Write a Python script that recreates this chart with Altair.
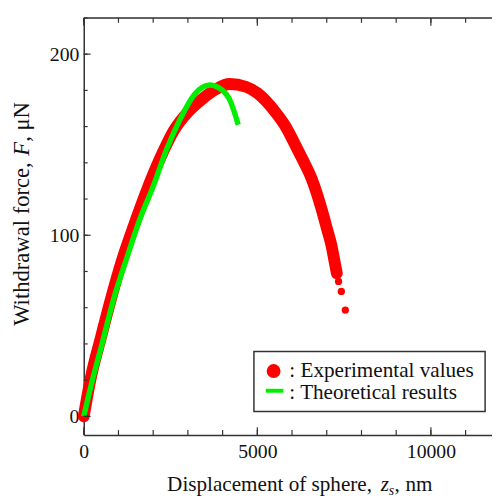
import altair as alt
import pandas as pd

# Experimental values (displacement nm, force uN)
exp_disp = [0, 200, 500, 800, 1100, 1400, 1800, 2200, 2600, 3000, 3400, 3800, 4200,
            4670, 5000, 5520, 5800, 6090, 6300, 6570, 6880, 7000, 7140, 7220, 7290]
exp_force = [0, 21, 44, 66, 86, 103, 124, 142.5, 158, 168, 175, 180.5, 183.5,
             182, 178.5, 168, 160.5, 150, 142, 131, 112.5, 104, 94, 86, 79]
tail_disp = [7340, 7420, 7535]
tail_force = [74.5, 69, 58.7]

# Theoretical results
theo_disp = [0, 250, 500, 850, 1250, 1600, 2000, 2400, 2800, 3200, 3630, 4000, 4200, 4450]
theo_force = [0, 20, 38, 64, 88, 108, 127, 148, 165, 178, 183, 180, 175, 161]

x_labels = [0, 5000, 10000]
y_labels = [0, 100, 200]
x_minor = list(range(0, 12000, 1000))
y_minor = list(range(0, 221, 20))

W, H = 415, 424
FONT = "Liberation Serif"
AX = "#333333"

xs = alt.Scale(domain=[0, 11760], nice=False, zero=False)
ys = alt.Scale(domain=[-10.3, 220], nice=False, zero=False)

exp_df = pd.DataFrame({"d": exp_disp, "f": exp_force})
tail_df = pd.DataFrame({"d": tail_disp, "f": tail_force})
theo_df = pd.DataFrame({"d": theo_disp, "f": theo_force})
one = pd.DataFrame({"k": [0]})

xaxis = alt.Axis(values=x_labels, format="d", ticks=False, grid=False, title=None, domainColor=AX,
                 domainWidth=1.5, labelFont=FONT, labelFontSize=20, labelColor="#111",
                 labelPadding=7, labelFlush=False, labelOverlap=False)
yaxis = alt.Axis(values=y_labels, format="d", ticks=False, grid=False, title=None, domainColor=AX,
                 domainWidth=1.5, labelFont=FONT, labelFontSize=20, labelColor="#111",
                 labelPadding=5, labelOverlap=False)

exp_line = alt.Chart(exp_df).mark_line(
    color="#FF0000", strokeWidth=12, strokeCap="round", strokeJoin="round",
    interpolate="monotone"
).encode(x=alt.X("d:Q", scale=xs, axis=xaxis), y=alt.Y("f:Q", scale=ys, axis=yaxis))

tail_pts = alt.Chart(tail_df).mark_circle(color="#FF0000", size=55, opacity=1).encode(
    x=alt.X("d:Q", scale=xs), y=alt.Y("f:Q", scale=ys))

theo_line = alt.Chart(theo_df).mark_line(
    color="#00EE00", strokeWidth=5.5, interpolate="monotone", strokeCap="butt"
).encode(x=alt.X("d:Q", scale=xs), y=alt.Y("f:Q", scale=ys))

# inward ticks
left_minor = alt.Chart(pd.DataFrame({"v": y_minor})).mark_rule(color=AX, strokeWidth=1.2).encode(
    y=alt.Y("v:Q", scale=ys), x=alt.value(0), x2=alt.value(4))
left_major = alt.Chart(pd.DataFrame({"v": y_labels})).mark_rule(color=AX, strokeWidth=1.2).encode(
    y=alt.Y("v:Q", scale=ys), x=alt.value(0), x2=alt.value(7))
bot_minor = alt.Chart(pd.DataFrame({"v": x_minor})).mark_rule(color=AX, strokeWidth=1.2).encode(
    x=alt.X("v:Q", scale=xs), y=alt.value(H), y2=alt.value(H - 5))
bot_major = alt.Chart(pd.DataFrame({"v": x_labels})).mark_rule(color=AX, strokeWidth=1.2).encode(
    x=alt.X("v:Q", scale=xs), y=alt.value(H), y2=alt.value(H - 8))
top_minor = alt.Chart(pd.DataFrame({"v": x_minor})).mark_rule(color=AX, strokeWidth=1.2).encode(
    x=alt.X("v:Q", scale=xs), y=alt.value(0), y2=alt.value(5))
top_major = alt.Chart(pd.DataFrame({"v": x_labels})).mark_rule(color=AX, strokeWidth=1.2).encode(
    x=alt.X("v:Q", scale=xs), y=alt.value(0), y2=alt.value(8))
top_line = alt.Chart(one).mark_rule(color=AX, strokeWidth=1.5).encode(
    x=alt.value(0), x2=alt.value(W), y=alt.value(0))


def txt(s, x, y, size=21, align="left", italic=False, angle=0, baseline="alphabetic"):
    kw = dict(font=FONT, fontSize=size, align=align, baseline=baseline, color="#111")
    if italic:
        kw["fontStyle"] = "italic"
    if angle:
        kw["angle"] = angle
    return alt.Chart(one).mark_text(**kw).encode(
        x=alt.value(x), y=alt.value(y), text=alt.value(s))


# x title (page baseline ~495)
xt = [
    txt("Displacement of sphere,", 293, 481, size=21.5, align="right"),
    txt("z", 302, 481, size=21.5, italic=True),
    txt("s", 310, 485, size=14, italic=True),
    txt(",", 316, 481, size=21.5),
    txt("nm", 327, 481, size=21.5),
]
# y title (rotated, reads bottom to top)
yt = [
    txt("Withdrawal force,", -56, 313, size=23, angle=270),
    txt("F", -56, 140, size=23, angle=270, italic=True),
    txt(", \u03bcN", -56, 126, size=23, angle=270),
]

# legend
leg_box = alt.Chart(one).mark_rect(fill="white", stroke=AX, strokeWidth=1.5).encode(
    x=alt.value(173), x2=alt.value(408), y=alt.value(339), y2=alt.value(400))
leg_dot = alt.Chart(one).mark_point(filled=True, shape="circle", color="#FF0000", size=200, opacity=1).encode(
    x=alt.value(193), y=alt.value(359))
leg_dash = alt.Chart(one).mark_rule(color="#00EE00", strokeWidth=4).encode(
    x=alt.value(185), x2=alt.value(203), y=alt.value(379))
leg_t1 = txt(": Experimental values", 209, 365, size=21.5)
leg_t2 = txt(": Theoretical results", 209, 387, size=21.5)

chart = alt.layer(
    exp_line, tail_pts, theo_line,
    left_minor, left_major, bot_minor, bot_major, top_minor, top_major, top_line,
    leg_box, leg_dot, leg_dash, leg_t1, leg_t2,
    *xt, *yt
).properties(
    width=W, height=H,
    autosize=alt.AutoSizeParams(type="none"),
    padding={"left": 77, "top": 6, "right": 0, "bottom": 64},
).configure_view(stroke=None).configure(background="white")

chart.save("out.html", embed_options={"renderer": "svg", "actions": False})
